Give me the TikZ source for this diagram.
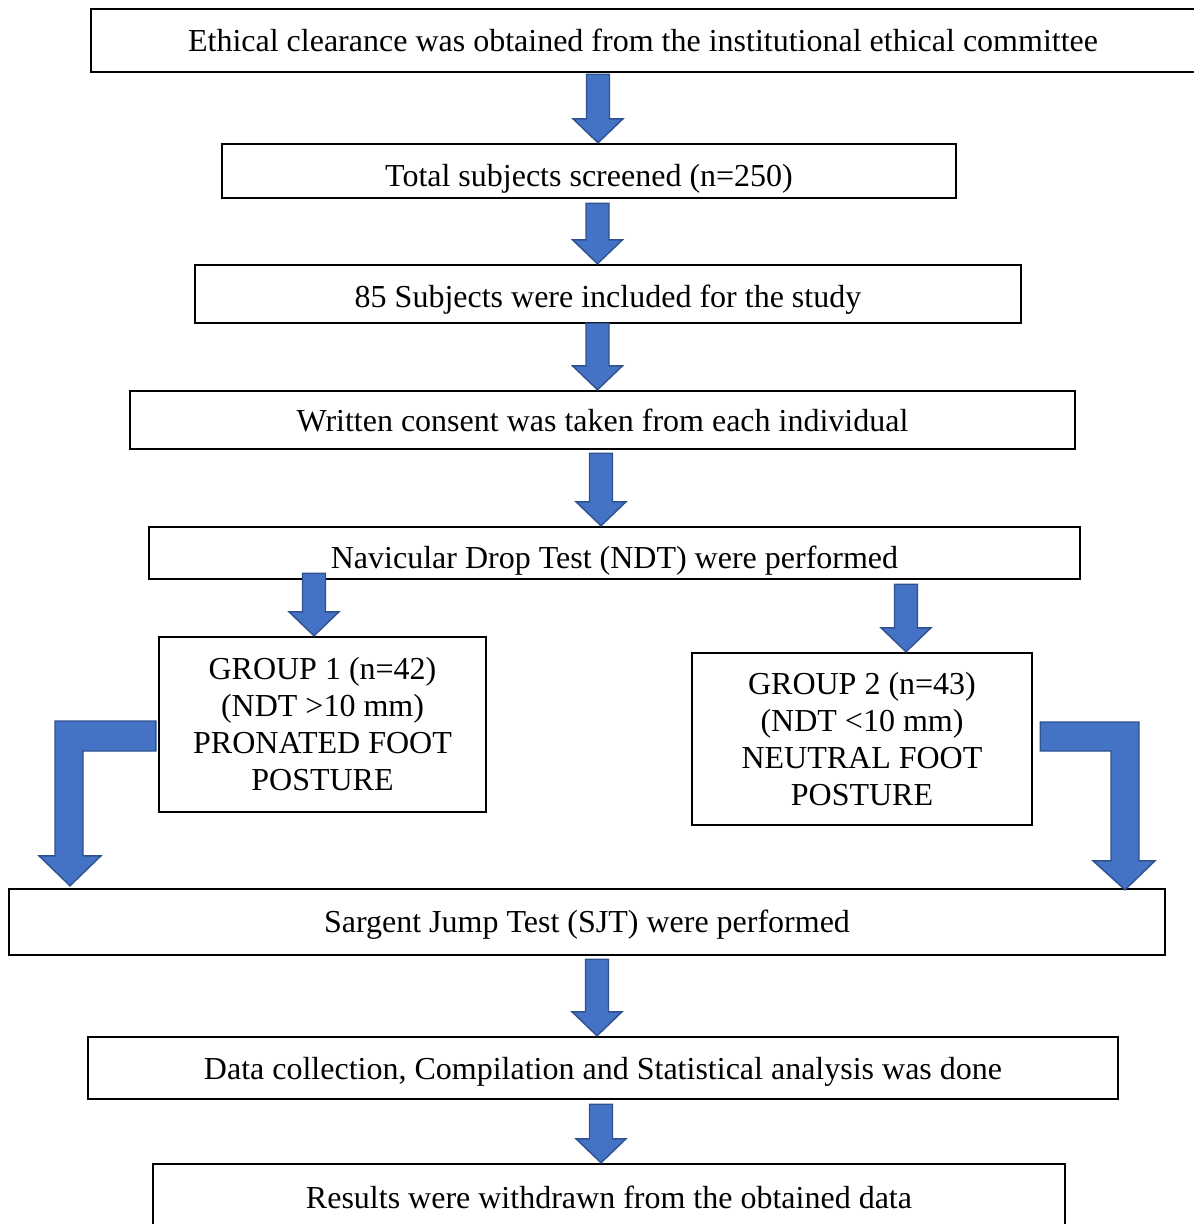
\documentclass[tikz,border=0pt]{standalone}
\usepackage{fontspec}
\setmainfont{Liberation Serif}
\usepackage{tikz}
\usetikzlibrary{calc}
\definecolor{arrowfill}{HTML}{4472C4}
\definecolor{arrowline}{HTML}{2F528F}
\tikzset{
  stepbox/.style={draw,line width=2.4pt,inner sep=0pt,align=center},
  dropped/.style={text depth=0pt,text height=#1},
  bluearrow/.style={fill=arrowfill,draw=arrowline,line width=1.4pt,line join=miter},
}
% block arrow: #1 x centre, #2 from node, #3 to node, #4 offset of the top
\newcommand{\blockarrow}[4]{%
  \path[bluearrow] let \p1=(#2.south), \p2=(#3.north) in
    (#1pt-11.5pt,\y1#4) -- (#1pt+11.5pt,\y1#4) -- (#1pt+11.5pt,\y2+24pt)
    -- (#1pt+25pt,\y2+24pt) -- (#1pt,\y2) -- (#1pt-25pt,\y2+24pt)
    -- (#1pt-11.5pt,\y2+24pt) -- cycle;
}

\begin{document}
\begin{tikzpicture}[x=1pt,y=1pt,font=\fontsize{32}{37}\selectfont]
\useasboundingbox (0,0) rectangle (1194,-1224);
% Boxes
\node[stepbox,minimum width=1104,minimum height=63] (b1) at (643,-40.5) {Ethical clearance was obtained from the institutional ethical committee};
\node[stepbox,dropped=30pt,minimum width=734,minimum height=54] (b2) at (589,-171) {Total subjects screened (n=250)};
\node[stepbox,dropped=26pt,minimum width=826,minimum height=58] (b3) at (608,-294) {85 Subjects were included for the study};
\node[stepbox,minimum width=945,minimum height=58] (b4) at (602.5,-420) {Written consent was taken from each individual};
\node[stepbox,dropped=30pt,minimum width=931,minimum height=52] (b5) at (614.5,-553) {Navicular Drop Test (NDT) were performed};
\node[stepbox,minimum width=327,minimum height=175] (b6) at (322.5,-724.5) {GROUP 1 (n=42)\\(NDT >10 mm)\\PRONATED FOOT\\POSTURE};
\node[stepbox,minimum width=340,minimum height=172] (b7) at (862,-739) {GROUP 2 (n=43)\\(NDT <10 mm)\\NEUTRAL FOOT\\POSTURE};
\node[stepbox,dropped=21pt,minimum width=1156,minimum height=66] (b8) at (587,-922) {Sargent Jump Test (SJT) were performed};
\node[stepbox,dropped=22pt,minimum width=1030,minimum height=62] (b9) at (603,-1068) {Data collection, Compilation and Statistical analysis was done};
\node[stepbox,minimum width=912,minimum height=66] (b10) at (609,-1197) {Results were withdrawn from the obtained data};
% Straight arrows
\blockarrow{598}{b1}{b2}{-1pt}
\blockarrow{597.5}{b2}{b3}{-4pt}
\blockarrow{597.5}{b3}{b4}{+1pt}
\blockarrow{601}{b4}{b5}{-3pt}
\blockarrow{314}{b5}{b6}{+7pt}
\blockarrow{906}{b5}{b7}{-4pt}
\blockarrow{597}{b8}{b9}{-3pt}
\blockarrow{601}{b9}{b10}{-4pt}
% Bent arrows
\path[bluearrow] let \p1=(b6.west), \p2=(b8.north) in
  (\x1-2pt,-721pt) -- (55pt,-721pt) -- (55pt,\y2+32pt) -- (39pt,\y2+32pt)
  -- (70pt,\y2+2pt) -- (101pt,\y2+32pt) -- (83pt,\y2+32pt) -- (83pt,-751pt)
  -- (\x1-2pt,-751pt) -- cycle;
\path[bluearrow] let \p1=(b7.east), \p2=(b8.north) in
  (\x1+7pt,-722pt) -- (1139pt,-722pt) -- (1139pt,\y2+27pt) -- (1155pt,\y2+27pt)
  -- (1125pt,\y2-2pt) -- (1093pt,\y2+27pt) -- (1111pt,\y2+27pt) -- (1111pt,-751pt)
  -- (\x1+7pt,-751pt) -- cycle;
\end{tikzpicture}
\end{document}
